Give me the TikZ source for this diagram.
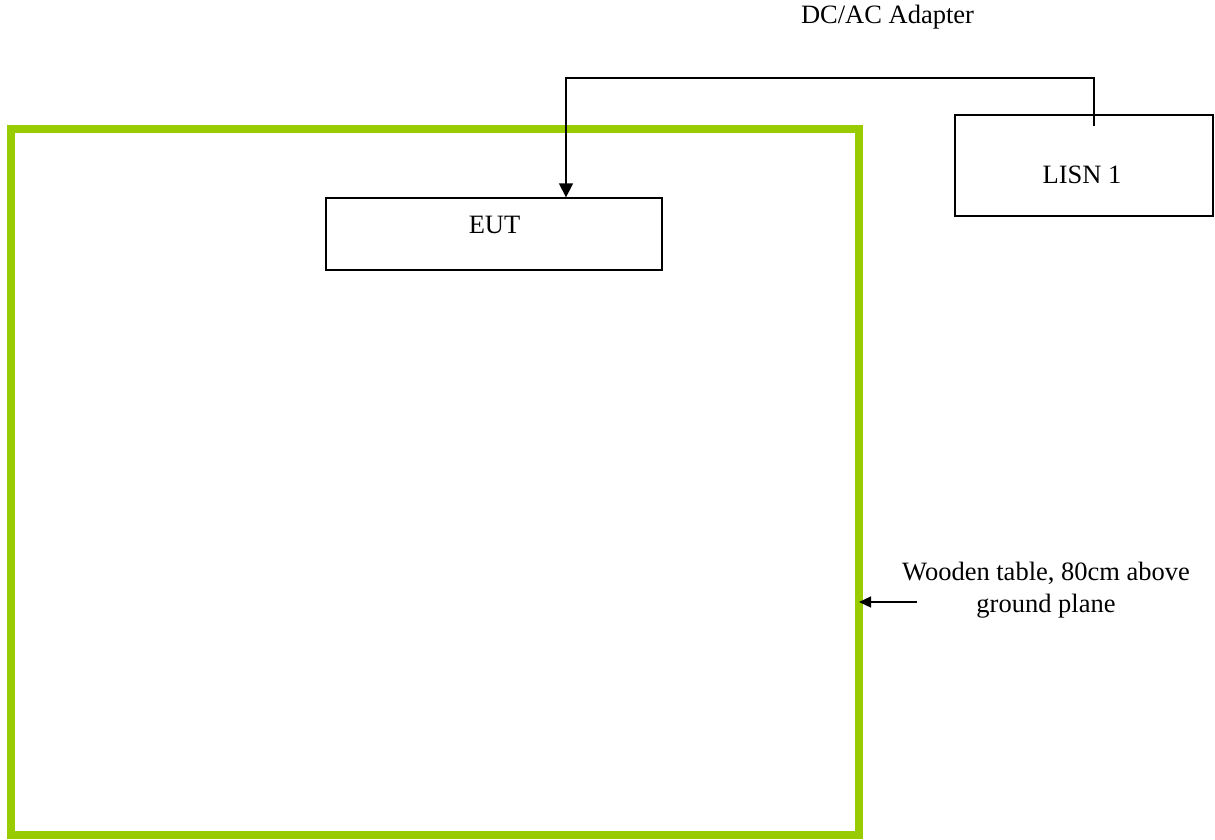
\documentclass[tikz,border=0pt]{standalone}
\usepackage{fontspec}
\setmainfont{Liberation Serif}
\usetikzlibrary{arrows.meta}
\definecolor{tablegreen}{HTML}{99CC00}
\tikzset{
  boxnode/.style={draw=black, line width=1.3pt, inner sep=0pt, rectangle},
  txt/.style={inner sep=0pt, font=\fontsize{26.5}{32}\selectfont},
  conn/.style={draw=black, line width=1.3pt, -{Triangle[width=14pt,length=14pt]}},
  smallarrow/.style={draw=black, line width=1.3pt, -{Triangle[width=11pt,length=12pt]}},
  tablebox/.style={draw=tablegreen, line width=8pt, inner sep=0pt, outer sep=0pt, rectangle}
}
\begin{document}
\begin{tikzpicture}[x=1pt,y=-1pt]
\useasboundingbox (0,0) rectangle (1215,839);
% wooden table
\node[tablebox, minimum width=848pt, minimum height=706pt] (table) at (435,482) {};
% EUT
\node[boxnode, minimum width=336pt, minimum height=72pt] (eut) at (494,234) {};
\node[txt] (euttext) at (494.5,225) {EUT};
% LISN
\node[boxnode, minimum width=258pt, minimum height=101pt] (lisn) at (1084,165.5) {};
\node[txt] (lisntext) at (1082,175) {LISN 1};
% adapter label
\node[txt, anchor=base] (adapter) at (887.5,23) {DC/AC Adapter};
% wooden table label
\node[txt, align=center, anchor=north] (woodtext) at (1046,562) {Wooden table, 80cm above\\ground plane};
% connector
\coordinate (lisnin) at (1094,126);
\coordinate (corner) at (566,78);
\draw[conn] (lisnin) |- (corner) -- (corner |- eut.north);
% table arrow
\coordinate (warr) at (917,602);
\draw[smallarrow] (warr) -- (table.east |- warr);
\end{tikzpicture}
\end{document}
